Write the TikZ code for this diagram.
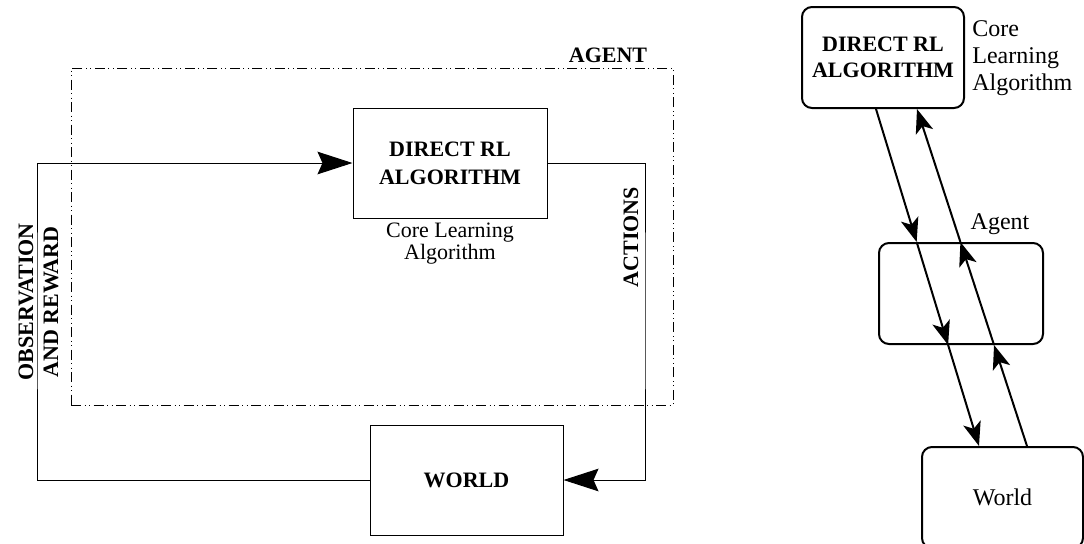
\documentclass[tikz,border=0pt]{standalone}
\usepackage{fontspec}
\setmainfont{Liberation Serif}
\usepackage{tikz}
\usetikzlibrary{arrows.meta,positioning}
\tikzstyle{algbox} = [rectangle, draw, line width=0.5pt, minimum width=97pt, minimum height=55pt, align=center, font=\fontsize{11}{14}\selectfont\bfseries]
\tikzstyle{flow} = [line width=0.5pt, -{Stealth[length=17.5pt,width=11.3pt,inset=2.5pt]}]
\tikzstyle{boldlabel} = [align=center, font=\fontsize{11}{12.5}\selectfont\bfseries]
\tikzstyle{roundbox} = [rectangle, draw, rounded corners=5pt, line width=1pt, minimum width=81pt, minimum height=50.5pt, align=center]
\tikzstyle{rflow} = [line width=1pt, -{Stealth[length=12pt,width=9pt,inset=3pt]}]

\begin{document}
\begin{tikzpicture}[x=0.5pt,y=-0.5pt]
\path[use as bounding box, clip] (0,0) rectangle (1084,543);

% Agent / world loop
\node[draw, line width=0.5pt, dash pattern=on 5pt off 1.75pt on 0.5pt off 1.75pt on 0.5pt off 1.75pt, minimum width=301pt, minimum height=168.5pt] (agentbox) at (372,236.5) {};
\node[boldlabel] (agentlbl) at (608,55) {AGENT};
\node[algbox] (direct) at (450,163) {DIRECT RL\\ALGORITHM};
\node[below=2pt of direct, inner sep=0pt, align=center, font=\fontsize{11}{11}\selectfont] (directlbl) {Core Learning\\Algorithm};
\node[algbox, minimum width=96.5pt] (world) at (466.5,480) {WORLD};

\coordinate (obscorner) at (37,300);
\coordinate (actcorner) at (645,300);
\draw[flow] (world.west) -| (obscorner) |- (direct.west);
\draw[flow] (direct.east) -| (actcorner) |- (world.east);
\node[boldlabel, rotate=90] (obslbl) at (38.5,302) {OBSERVATION\\AND REWARD};
\node[boldlabel, rotate=90] (actlbl) at (631,237) {ACTIONS};

% Layered view
\node[roundbox, font=\fontsize{11}{13}\selectfont\bfseries] (rdirect) at (883,57.5) {DIRECT RL\\ALGORITHM};
\node[anchor=north west, inner sep=0pt, align=left, font=\fontsize{12}{13.5}\selectfont] (rdirectlbl) at ([xshift=3.5pt,yshift=-7pt]rdirect.north east) {Core\\Learning\\Algorithm};
\node[roundbox, minimum width=82pt] (ragent) at (961,293.5) {};
\node[font=\fontsize{12}{14}\selectfont] (ragentlbl) at (1000,224) {Agent};
\node[roundbox, minimum width=80.5pt, font=\fontsize{12}{14}\selectfont] (rworld) at (1002.5,497.5) {World};

\coordinate (dn0) at ([xshift=-3.5pt]rdirect.south);
\coordinate (dn3) at ([xshift=-11.75pt]rworld.north);
\coordinate (up0) at ([xshift=12.25pt]rworld.north);
\coordinate (up3) at ([xshift=17pt]rdirect.south);
\coordinate (dn1) at (intersection of dn0--dn3 and ragent.north west--ragent.north east);
\coordinate (dn2) at (intersection of dn0--dn3 and ragent.south west--ragent.south east);
\coordinate (up1) at (intersection of up0--up3 and ragent.south west--ragent.south east);
\coordinate (up2) at (intersection of up0--up3 and ragent.north west--ragent.north east);
\draw[rflow] (dn0) -- (dn1);
\draw[rflow] (dn1) -- (dn2);
\draw[rflow] (dn2) -- (dn3);
\draw[rflow] (up0) -- (up1);
\draw[rflow] (up1) -- (up2);
\draw[rflow] (up2) -- (up3);
\end{tikzpicture}
\end{document}
